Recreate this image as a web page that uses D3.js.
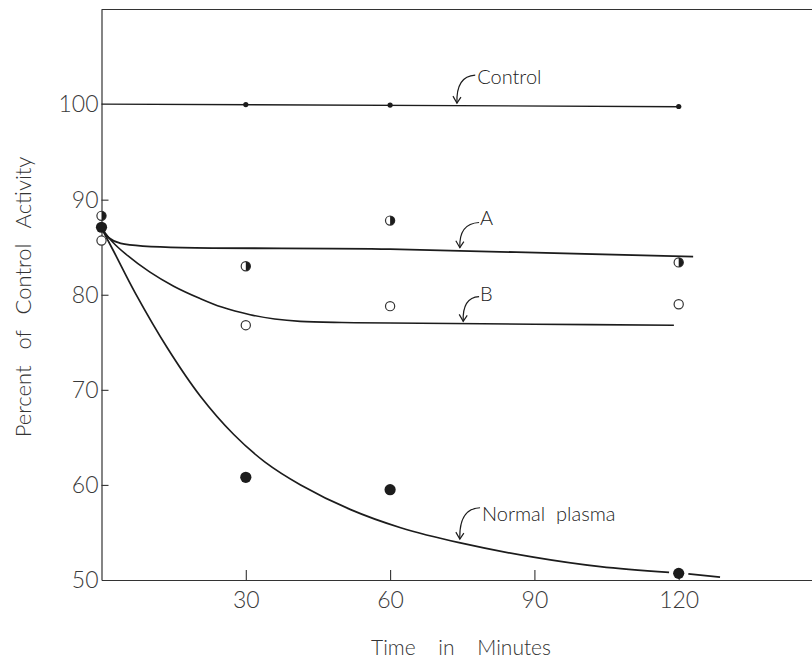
<!DOCTYPE html>
<html>
<head>
<meta charset="utf-8">
<script src="https://cdn.jsdelivr.net/npm/d3@7"></script>
<style>
  body { margin: 0; background: #fff; }
  svg { display: block; font-family: Lato, "DejaVu Sans", sans-serif; font-weight: 300; }
</style>
</head>
<body>
<div id="chart"></div>
<script>
// measured points (minutes / percent of control)
const times = [0, 30, 60, 120];
const controlTimes = [30, 60, 120];
const controlVals = [100, 99.95, 99.8];
const aVals = [88.3, 83.0, 87.8, 83.4];
const bVals = [85.7, 76.8, 78.8, 79.0];
const normalVals = [87.1, 60.8, 59.5, 50.7];

// drawn curves
const controlFitT = [0, 120.5];
const controlFitV = [100.05, 99.78];
const aFitT = [0, 1.5, 4, 60, 123];
const aFitV = [87, 86, 85.4, 84.8, 84.0];
const bFitT = [0, 2.4, 5, 10, 15, 20.5, 25, 30.9, 36, 41.3, 50, 60, 90, 119];
const bFitV = [87, 85.5, 84.3, 82.4, 80.9, 79.6, 78.7, 77.9, 77.45, 77.2, 77.08, 77.03, 76.9, 76.8];
const normalFitT = [0, 2.5, 7, 13.7, 20.6, 27.5, 34, 41.4, 51.8, 62.2, 74.6, 89.8, 103.7, 118];
const normalFitV = [87, 84.6, 80.2, 74.4, 69.3, 65.3, 62.4, 60.0, 57.4, 55.5, 53.9, 52.4, 51.4, 50.8];
const normalTailT = [122, 128.6];
const normalTailV = [50.65, 50.3];

const xTicks = [30, 60, 90, 120];
const yTicks = [50, 60, 70, 80, 90, 100];

// labels with their arrows (data units)
const notes = [
  {text: "Control", t: 78.1, v: 102.2, st: 77.7, sv: 103.1, et: 73.9, ev: 100.15},
  {text: "A", t: 78.7, v: 87.3, st: 78.5, sv: 87.6, et: 74.5, ev: 84.95},
  {text: "B", t: 78.7, v: 79.3, st: 78.5, sv: 79.8, et: 75.2, ev: 77.2},
  {text: "Normal  plasma", t: 79.1, v: 56.2, st: 78.7, sv: 57.6, et: 74.5, ev: 54.3}
];

const width = 812, height = 659;
const ink = "#1c1c1c";

let svg = d3.select("#chart").append("svg")
    .attr("width", width)
    .attr("height", height);

let x = d3.scaleLinear().domain([0, 150]).range([101.5, 823]);
let y = d3.scaleLinear().domain([50, 110]).range([580, 9.5]);

// frame top line
svg.append("line")
    .attr("x1", x(0)).attr("x2", width)
    .attr("y1", y(110)).attr("y2", y(110))
    .attr("stroke", "#333").attr("stroke-width", 1.2);

let xAxis = svg.append("g")
    .attr("transform", "translate(0," + y(50) + ")")
    .call(d3.axisBottom(x).tickValues(xTicks).tickSize(-10).tickSizeOuter(0).tickPadding(12).tickFormat(d3.format("d")));

let yAxis = svg.append("g")
    .attr("transform", "translate(" + x(0) + ",0)")
    .call(d3.axisLeft(y).tickValues(yTicks).tickSize(-7).tickSizeOuter(0).tickPadding(3).tickFormat(d3.format("d")));

[xAxis, yAxis].forEach(g => {
  g.select(".domain").attr("stroke", "#333").attr("stroke-width", 1.2);
  g.selectAll(".tick line").attr("stroke", "#333").attr("stroke-width", 1.1);
  g.selectAll(".tick text")
      .attr("fill", "#3a3a3a")
      .style("font-size", "23px")
      .style("font-family", "Lato, 'DejaVu Sans', sans-serif")
      .style("font-weight", 300);
});
yAxis.selectAll(".tick").filter(d => d === 50 || d === 100).select("line").remove();

// axis titles
svg.append("text")
    .attr("transform", "translate(31," + 297 + ") rotate(-90)")
    .attr("text-anchor", "middle")
    .attr("fill", "#333")
    .style("font-size", "22px")
    .style("word-spacing", "10px")
    .text("Percent of Control Activity");

svg.append("text")
    .attr("x", 461).attr("y", 655)
    .attr("text-anchor", "middle")
    .attr("fill", "#333")
    .style("font-size", "21px")
    .style("word-spacing", "17px")
    .text("Time in Minutes");

// curves
let line = d3.line()
    .x(d => x(d[0]))
    .y(d => y(d[1]))
    .curve(d3.curveCatmullRom.alpha(0.5));

let fits = [
  [controlFitT, controlFitV, 1.4],
  [aFitT, aFitV, 1.8],
  [bFitT, bFitV, 1.6],
  [normalFitT, normalFitV, 1.7],
  [normalTailT, normalTailV, 1.7]
];

fits.forEach(f => {
  svg.append("path")
      .datum(d3.zip(f[0], f[1]))
      .attr("d", line)
      .attr("fill", "none")
      .attr("stroke", ink)
      .attr("stroke-width", f[2]);
});

// points
svg.append("g").selectAll("circle")
    .data(d3.zip(controlTimes, controlVals))
    .join("circle")
    .attr("cx", d => x(d[0])).attr("cy", d => y(d[1]))
    .attr("r", 2.6).attr("fill", ink);

svg.append("g").selectAll("circle")
    .data(d3.zip(times, bVals))
    .join("circle")
    .attr("cx", d => x(d[0])).attr("cy", d => y(d[1]))
    .attr("r", 4.6).attr("fill", "#fff")
    .attr("stroke", "#333").attr("stroke-width", 1.2);

let halfArc = d3.arc().innerRadius(0).outerRadius(4.6).startAngle(0).endAngle(Math.PI);
let aPts = svg.append("g").selectAll("g")
    .data(d3.zip(times, aVals))
    .join("g")
    .attr("transform", d => "translate(" + x(d[0]) + "," + y(d[1]) + ")");
aPts.append("circle").attr("r", 4.6).attr("fill", "#fff")
    .attr("stroke", "#333").attr("stroke-width", 1.2);
aPts.append("path").attr("d", halfArc()).attr("fill", ink);

svg.append("g").selectAll("circle")
    .data(d3.zip(times, normalVals))
    .join("circle")
    .attr("cx", d => x(d[0])).attr("cy", d => y(d[1]))
    .attr("r", 5.6).attr("fill", ink);

// annotations
let notesG = svg.append("g");
notes.forEach(n => {
  let sx = x(n.st), sy = y(n.sv), ex = x(n.et), ey = y(n.ev);
  notesG.append("path")
      .attr("d", "M" + sx + "," + sy + " Q" + (ex - 1) + "," + (sy + 1) + " " + ex + "," + ey)
      .attr("fill", "none").attr("stroke", ink).attr("stroke-width", 1.2);
  notesG.append("path")
      .attr("d", "M" + (ex - 4) + "," + (ey - 7) + " L" + ex + "," + ey + " L" + (ex + 4) + "," + (ey - 6))
      .attr("fill", "none").attr("stroke", ink).attr("stroke-width", 1.2);
  notesG.append("text")
      .attr("x", x(n.t)).attr("y", y(n.v))
      .attr("fill", "#222")
      .style("font-size", "20px")
      .style("white-space", "pre")
      .text(n.text);
});
</script>
</body>
</html>
